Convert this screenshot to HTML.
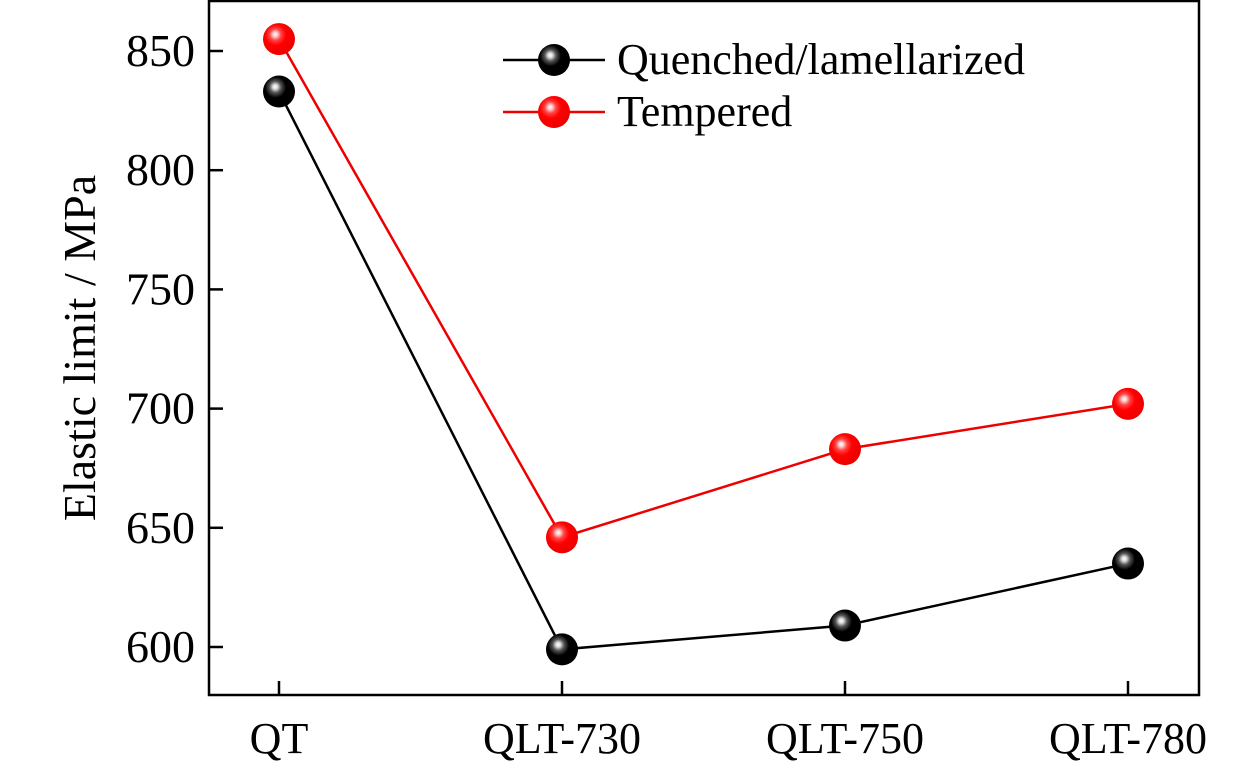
<!DOCTYPE html>
<html><head><meta charset="utf-8"><style>
html,body{margin:0;padding:0;background:#fff;}
svg{display:block;font-family:"Liberation Serif",serif;}
</style></head><body>
<svg id="chart" width="1260" height="762">
<defs>
<radialGradient id="gBlack" cx="0.4" cy="0.38" r="0.6" fx="0.38" fy="0.35">
<stop offset="0" stop-color="#fff"/><stop offset="0.12" stop-color="#ddd"/><stop offset="0.3" stop-color="#555"/><stop offset="0.55" stop-color="#000"/><stop offset="1" stop-color="#000"/></radialGradient>
<radialGradient id="gRed" cx="0.4" cy="0.38" r="0.6" fx="0.38" fy="0.35">
<stop offset="0" stop-color="#fff"/><stop offset="0.12" stop-color="#fcc"/><stop offset="0.3" stop-color="#f44"/><stop offset="0.55" stop-color="#f00"/><stop offset="1" stop-color="#e00"/></radialGradient>
</defs>
<g id="plot"></g>
</svg>
<script>
const categories=["QT","QLT-730","QLT-750","QLT-780"];
const quenched=[833,599,609,635];
const tempered=[855,646,683,702];
const yTicks=[600,650,700,750,800,850];
const seriesNames=["Quenched/lamellarized","Tempered"];

const L=209,R=1199,T=1,B=695;
const xPos=i=>279+i*283;
const y=v=>647-(v-600)*2.384;
const NS="http://www.w3.org/2000/svg";
const g=document.getElementById('plot');
function mk(tag,attrs,parent){const e=document.createElementNS(NS,tag);for(const k in attrs)e.setAttribute(k,attrs[k]);(parent||g).appendChild(e);return e;}

const frame=mk('rect',{x:L,y:T,width:R-L,height:B-T,fill:'none',stroke:'#000','stroke-width':2.5});



yTicks.forEach(v=>{
  const t=mk('line',{x1:L,x2:L+14,y1:y(v),y2:y(v),stroke:'#000','stroke-width':2.5});
  
  
  const lb=mk('text',{x:L-14,y:y(v)+15,'text-anchor':'end','font-size':46});
  lb.textContent=v;
  
  
});
categories.forEach((c,i)=>{
  const t=mk('line',{x1:xPos(i),x2:xPos(i),y1:B,y2:B-14,stroke:'#000','stroke-width':2.5});
  
  
  const lb=mk('text',{x:xPos(i),y:753,'text-anchor':'middle','font-size':44});
  lb.textContent=c;
  
  
});
const yt=mk('text',{x:0,y:0,'text-anchor':'middle','font-size':46,transform:'translate(95,348) rotate(-90)'});
yt.textContent='Elastic limit / MPa';



function series(vals,color,grad,name){
  const pts=vals.map((v,i)=>xPos(i)+','+y(v)).join(' ');
  const pl=mk('polyline',{points:pts,fill:'none',stroke:color,'stroke-width':2.5});
  
  
  vals.forEach((v,i)=>{
    const c=mk('circle',{cx:xPos(i),cy:y(v),r:16,fill:grad});
    
    
  });
}
series(quenched,'#000','url(#gBlack)','quenched');
series(tempered,'#e00','url(#gRed)','tempered');

[[seriesNames[0],'#000','url(#gBlack)',60],[seriesNames[1],'#e00','url(#gRed)',112]].forEach(([n,col,gr,yy])=>{
  const ln=mk('line',{x1:503,x2:605,y1:yy,y2:yy,stroke:col,'stroke-width':2.5});
  
  
  const c=mk('circle',{cx:554,cy:yy,r:16,fill:gr});
  
  
  const t=mk('text',{x:617,y:yy+14,'font-size':44});
  t.textContent=n;
  
  
});
</script>
</body></html>
